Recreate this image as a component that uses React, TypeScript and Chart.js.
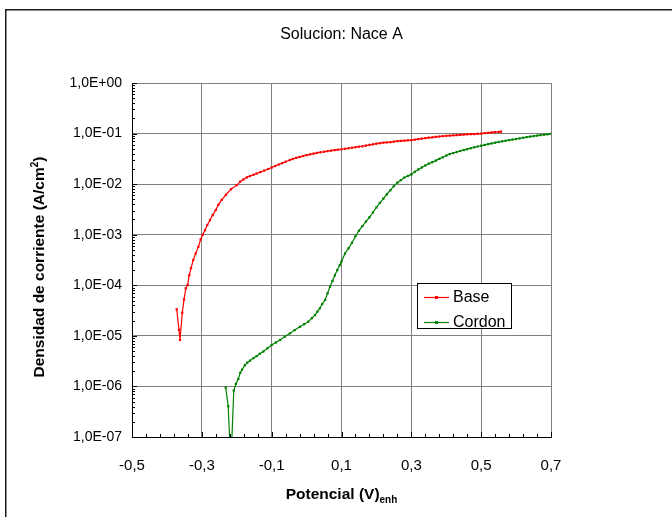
import React, { useEffect, useRef } from 'react';
import { Chart, registerables } from 'chart.js';

Chart.register(...registerables);

const FONT = '"Liberation Sans", Arial, sans-serif';

const chartTitle = 'Solucion: Nace A';
const xAxisTitle = 'Potencial (V)';
const xAxisSub = 'enh';
const yAxisTitle = 'Densidad de corriente (A/cm';
const yAxisSup = '2';
const yAxisTitleEnd = ')';
const seriesNames = ['Base', 'Cordon'];
const seriesColors = ['#ff0000', '#008000'];

const xMin = -0.5;
const xMax = 0.7;
const xMinorStep = 0.04;
const xTickValues = [-0.5, -0.3, -0.1, 0.1, 0.3, 0.5, 0.7];
const xTickLabels = ['-0,5', '-0,3', '-0,1', '0,1', '0,3', '0,5', '0,7'];
const yMin = 1e-7;
const yMax = 1;
const yTickValues = [1e-7, 1e-6, 1e-5, 1e-4, 1e-3, 1e-2, 1e-1, 1];
const yTickLabels = ['1,0E-07', '1,0E-06', '1,0E-05', '1,0E-04', '1,0E-03', '1,0E-02', '1,0E-01', '1,0E+00'];

// Base: potential (V) and current density (A/cm2)
const basePotential = [
  -0.372, -0.3655, -0.3625, -0.356, -0.351, -0.346, -0.3405, -0.336, -0.331, -0.3245,
  -0.3176, -0.31, -0.3033, -0.2975, -0.291, -0.2844, -0.2766, -0.269, -0.26, -0.2528,
  -0.243, -0.231, -0.2165, -0.2, -0.19, -0.181, -0.171, -0.162, -0.152, -0.143,
  -0.132, -0.121, -0.11, -0.1, -0.09, -0.08, -0.07, -0.06, -0.048, -0.04,
  -0.03, -0.02, -0.01, 0.0, 0.01, 0.02, 0.03, 0.04, 0.05, 0.06,
  0.07, 0.08, 0.09, 0.1, 0.11, 0.12, 0.13, 0.14, 0.15, 0.16,
  0.17, 0.18, 0.19, 0.2, 0.21, 0.22, 0.23, 0.24, 0.25, 0.26,
  0.27, 0.28, 0.29, 0.3, 0.31, 0.32, 0.33, 0.34, 0.35, 0.36,
  0.37, 0.38, 0.39, 0.4, 0.41, 0.42, 0.43, 0.44, 0.45, 0.46,
  0.47, 0.48, 0.49, 0.5, 0.51, 0.52, 0.53, 0.54, 0.55, 0.557,
];
const baseCurrent = [
  3.35e-5, 1.32e-5, 8.3e-6, 2.88e-5, 5.25e-5, 8.7e-5, 1.02e-4, 1.58e-4, 2.19e-4, 3.16e-4,
  4.27e-4, 5.75e-4, 8.13e-4, 1.0e-3, 1.23e-3, 1.55e-3, 1.95e-3, 2.45e-3, 3.09e-3, 3.89e-3,
  4.9e-3, 6.17e-3, 7.94e-3, 9.55e-3, 1.12e-2, 1.24e-2, 1.36e-2, 1.45e-2, 1.53e-2, 1.62e-2,
  1.73e-2, 1.86e-2, 1.99e-2, 2.13e-2, 2.28e-2, 2.44e-2, 2.6e-2, 2.78e-2, 3.0e-2, 3.14e-2,
  3.3e-2, 3.45e-2, 3.6e-2, 3.74e-2, 3.88e-2, 4.02e-2, 4.15e-2, 4.27e-2, 4.37e-2, 4.49e-2,
  4.6e-2, 4.71e-2, 4.81e-2, 4.9e-2, 5.01e-2, 5.13e-2, 5.25e-2, 5.37e-2, 5.5e-2, 5.62e-2,
  5.79e-2, 5.96e-2, 6.12e-2, 6.31e-2, 6.46e-2, 6.61e-2, 6.68e-2, 6.76e-2, 6.92e-2, 7.08e-2,
  7.16e-2, 7.24e-2, 7.33e-2, 7.41e-2, 7.59e-2, 7.76e-2, 7.94e-2, 8.13e-2, 8.32e-2, 8.41e-2,
  8.61e-2, 8.75e-2, 8.91e-2, 9.02e-2, 9.12e-2, 9.23e-2, 9.33e-2, 9.44e-2, 9.55e-2, 9.66e-2,
  9.73e-2, 9.77e-2, 9.89e-2, 1.0e-1, 1.023e-1, 1.035e-1, 1.054e-1, 1.07e-1, 1.08e-1, 1.09e-1,
];

// Cordon: potential (V) and current density (A/cm2)
const cordonPotential = [
  -0.2317, -0.2245, -0.2185, -0.2155, -0.2085, -0.2025, -0.1955, -0.19, -0.185, -0.1765,
  -0.17, -0.162, -0.152, -0.143, -0.134, -0.124, -0.112, -0.1, -0.088, -0.076,
  -0.062, -0.0475, -0.034, -0.019, -0.007, 0.005, 0.015, 0.024, 0.031, 0.038,
  0.045, 0.053, 0.06, 0.067, 0.074, 0.081, 0.088, 0.095, 0.1, 0.11,
  0.12, 0.13, 0.14, 0.15, 0.16, 0.17, 0.18, 0.19, 0.2, 0.21,
  0.22, 0.23, 0.24, 0.25, 0.26, 0.27, 0.28, 0.29, 0.3, 0.31,
  0.32, 0.33, 0.34, 0.35, 0.36, 0.37, 0.38, 0.39, 0.4, 0.41,
  0.42, 0.43, 0.44, 0.45, 0.46, 0.47, 0.48, 0.49, 0.5, 0.51,
  0.52, 0.53, 0.54, 0.55, 0.56, 0.57, 0.58, 0.59, 0.6, 0.61,
  0.62, 0.63, 0.64, 0.65, 0.66, 0.67, 0.68, 0.69, 0.7,
];
const cordonCurrent = [
  9.55e-7, 4.07e-7, 5.0e-8, 5.0e-8, 8.3e-7, 1.12e-6, 1.41e-6, 1.86e-6, 2.14e-6, 2.63e-6,
  2.95e-6, 3.24e-6, 3.63e-6, 3.98e-6, 4.42e-6, 4.9e-6, 5.69e-6, 6.61e-6, 7.41e-6, 8.32e-6,
  9.66e-6, 1.12e-5, 1.3e-5, 1.51e-5, 1.7e-5, 1.91e-5, 2.24e-5, 2.57e-5, 3.02e-5, 3.51e-5,
  4.27e-5, 5.13e-5, 6.92e-5, 9.33e-5, 1.22e-4, 1.58e-4, 2.0e-4, 2.51e-4, 2.95e-4, 4.27e-4,
  5.37e-4, 6.92e-4, 9.33e-4, 1.2e-3, 1.48e-3, 1.82e-3, 2.21e-3, 2.75e-3, 3.47e-3, 4.27e-3,
  5.19e-3, 6.31e-3, 7.59e-3, 9.12e-3, 1.07e-2, 1.2e-2, 1.35e-2, 1.45e-2, 1.56e-2, 1.76e-2,
  1.95e-2, 2.14e-2, 2.34e-2, 2.54e-2, 2.72e-2, 2.92e-2, 3.16e-2, 3.39e-2, 3.67e-2, 3.94e-2,
  4.12e-2, 4.32e-2, 4.52e-2, 4.73e-2, 4.92e-2, 5.13e-2, 5.35e-2, 5.55e-2, 5.75e-2, 5.96e-2,
  6.17e-2, 6.38e-2, 6.61e-2, 6.82e-2, 7.03e-2, 7.21e-2, 7.41e-2, 7.62e-2, 7.8e-2, 8.04e-2,
  8.26e-2, 8.51e-2, 8.71e-2, 8.91e-2, 9.12e-2, 9.33e-2, 9.5e-2, 9.66e-2, 9.82e-2,
];

const decorPlugin = {
  id: 'decor',
  afterDraw(chart: any) {
    const ctx: CanvasRenderingContext2D = chart.ctx;
    const xs = chart.scales.x;
    const ys = chart.scales.y;
    const ca = chart.chartArea;
    ctx.save();

    // outer frame (top and left visible)
    ctx.strokeStyle = '#1a1a1a';
    ctx.lineWidth = 1.5;
    ctx.beginPath();
    ctx.moveTo(5.75, 517);
    ctx.lineTo(5.75, 9.75);
    ctx.lineTo(672, 9.75);
    ctx.stroke();

    // title
    ctx.fillStyle = '#000';
    ctx.font = `16px ${FONT}`;
    ctx.textAlign = 'center';
    ctx.textBaseline = 'middle';
    ctx.fillText(chartTitle, (ca.left + ca.right) / 2, 35);

    // x minor/major ticks (inside)
    ctx.strokeStyle = '#000';
    ctx.lineWidth = 1;
    ctx.beginPath();
    const nx = Math.round((xMax - xMin) / xMinorStep);
    for (let i = 0; i <= nx; i++) {
      const v = xMin + i * xMinorStep;
      const px = Math.round(xs.getPixelForValue(v)) + 0.5;
      ctx.moveTo(px, ca.bottom);
      ctx.lineTo(px, ca.bottom - 3);
    }
    for (const v of xTickValues) {
      const px = Math.round(xs.getPixelForValue(v)) + 0.5;
      ctx.moveTo(px, ca.bottom);
      ctx.lineTo(px, ca.bottom - 5);
    }
    // y minor ticks (inside)
    for (let d = 0; d < yTickValues.length - 1; d++) {
      const base = yTickValues[d];
      for (let m = 2; m <= 9; m++) {
        const py = Math.round(ys.getPixelForValue(base * m)) + 0.5;
        ctx.moveTo(ca.left, py);
        ctx.lineTo(ca.left + 3, py);
      }
    }
    for (const v of yTickValues) {
      const py = Math.round(ys.getPixelForValue(v)) + 0.5;
      ctx.moveTo(ca.left, py);
      ctx.lineTo(ca.left + 5, py);
    }
    ctx.stroke();

    // x axis title with subscript
    ctx.textAlign = 'left';
    ctx.textBaseline = 'alphabetic';
    const mainFont = `bold 15.5px ${FONT}`;
    const smallFont = `bold 10px ${FONT}`;
    ctx.font = mainFont;
    const wx1 = ctx.measureText(xAxisTitle).width;
    ctx.font = smallFont;
    const wx2 = ctx.measureText(xAxisSub).width;
    const cx = (ca.left + ca.right) / 2;
    const sx = cx - (wx1 + wx2) / 2;
    ctx.font = mainFont;
    ctx.fillText(xAxisTitle, sx, 499);
    ctx.font = smallFont;
    ctx.fillText(xAxisSub, sx + wx1, 503);

    // y axis title with superscript
    ctx.save();
    ctx.translate(44, (ca.top + ca.bottom) / 2 + 7);
    ctx.rotate(-Math.PI / 2);
    ctx.font = mainFont;
    const wy1 = ctx.measureText(yAxisTitle).width;
    const wy3 = ctx.measureText(yAxisTitleEnd).width;
    ctx.font = smallFont;
    const wy2 = ctx.measureText(yAxisSup).width;
    const sy = -(wy1 + wy2 + wy3) / 2;
    ctx.font = mainFont;
    ctx.fillText(yAxisTitle, sy, 0);
    ctx.font = smallFont;
    ctx.fillText(yAxisSup, sy + wy1, -6);
    ctx.font = mainFont;
    ctx.fillText(yAxisTitleEnd, sy + wy1 + wy2, 0);
    ctx.restore();

    // legend
    const lx = 417.5, ly = 283.5, lw = 94, lh = 45;
    ctx.fillStyle = '#fff';
    ctx.fillRect(lx, ly, lw, lh);
    ctx.strokeStyle = '#000';
    ctx.lineWidth = 1;
    ctx.strokeRect(lx, ly, lw, lh);
    const rows = [297, 322];
    ctx.font = `16px ${FONT}`;
    ctx.textBaseline = 'middle';
    for (let i = 0; i < seriesNames.length; i++) {
      const y = rows[i] + 0.5;
      ctx.strokeStyle = seriesColors[i];
      ctx.lineWidth = 1.2;
      ctx.beginPath();
      ctx.moveTo(424, y);
      ctx.lineTo(449, y);
      ctx.stroke();
      ctx.fillStyle = seriesColors[i];
      ctx.fillRect(435, y - 1.5, 3, 3);
      ctx.fillStyle = '#000';
      ctx.fillText(seriesNames[i], 453, rows[i] + 1);
    }
    ctx.restore();
  },
};

export default function App() {
  const ref = useRef<HTMLCanvasElement>(null);
  useEffect(() => {
    const canvas = ref.current!;
    const chart = new Chart(canvas, {
      type: 'line',
      data: {
        datasets: [
          {
            label: seriesNames[0],
            data: basePotential.map((v, i) => ({ x: v, y: baseCurrent[i] })),
            borderColor: seriesColors[0],
            backgroundColor: seriesColors[0],
            borderWidth: 1.2,
            pointStyle: 'rect',
            pointRadius: 1.6,
            pointBorderWidth: 0,
            pointBackgroundColor: seriesColors[0],
            tension: 0,
            clip: 0 as any,
          },
          {
            label: seriesNames[1],
            data: cordonPotential.map((v, i) => ({ x: v, y: cordonCurrent[i] })),
            borderColor: seriesColors[1],
            backgroundColor: seriesColors[1],
            borderWidth: 1.2,
            pointStyle: 'rect',
            pointRadius: 1.6,
            pointBorderWidth: 0,
            pointBackgroundColor: seriesColors[1],
            tension: 0,
            clip: 0 as any,
          },
        ],
      },
      options: {
        animation: false,
        responsive: false,
        devicePixelRatio: 1,
        layout: { padding: { left: 0, top: 83, right: 121, bottom: 0 } },
        plugins: {
          legend: { display: false },
          title: { display: false },
          tooltip: { enabled: false },
        },
        scales: {
          x: {
            type: 'linear',
            min: xMin,
            max: xMax,
            afterBuildTicks: (s: any) => {
              s.ticks = xTickValues.map((v) => ({ value: v }));
            },
            afterFit: (s: any) => {
              s.height = 80;
            },
            ticks: {
              padding: 20,
              maxRotation: 0,
              autoSkip: false,
              color: '#000',
              font: { family: FONT, size: 15 },
              callback: (_v: any, i: number) => xTickLabels[i],
            },
            grid: { color: '#808080', lineWidth: 1, drawTicks: false },
            border: { display: true, color: '#000', width: 1 },
          },
          y: {
            type: 'logarithmic',
            min: yMin,
            max: yMax,
            afterBuildTicks: (s: any) => {
              s.ticks = yTickValues.map((v) => ({ value: v }));
            },
            afterFit: (s: any) => {
              s.width = 132;
            },
            ticks: {
              padding: 10,
              autoSkip: false,
              color: '#000',
              font: { family: FONT, size: 14 },
              callback: (_v: any, i: number) => yTickLabels[i],
            },
            grid: { color: '#808080', lineWidth: 1, drawTicks: false },
            border: { display: true, color: '#000', width: 1 },
          },
        },
      },
      plugins: [decorPlugin],
    });
    return () => chart.destroy();
  }, []);
  return (
    <div style={{ position: 'absolute', left: 0, top: 0, width: 672, height: 517, background: '#fff' }}>
      <canvas ref={ref} width={672} height={517} style={{ display: 'block', width: 672, height: 517 }} />
    </div>
  );
}
